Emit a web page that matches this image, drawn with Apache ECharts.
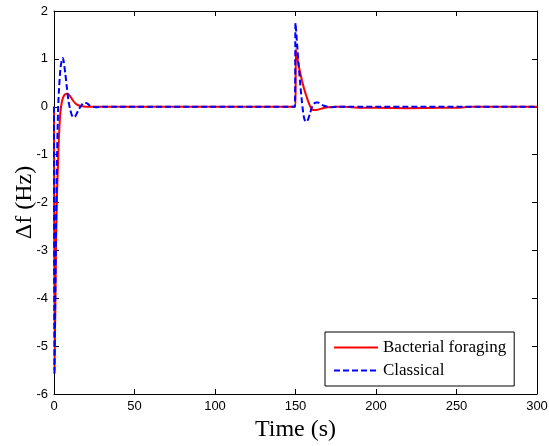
<!DOCTYPE html>
<html><head><meta charset="utf-8">
<script src="https://cdn.jsdelivr.net/npm/echarts@6/dist/echarts.min.js"></script>
<style>html,body{margin:0;padding:0;background:#fff}#c{width:549px;height:446px}</style>
</head><body><div id="c"></div>
<script>
const tBF = [0,0.3,0.8,1.2,1.6,2,2.5,3,3.5,4,5,6,7,8,9,10,11,12,13,14,16,18,20,150,150.2,151,152,153,154,155,156,157,158,159,160,161,162,164,166,168,170,175,180,190,200,220,240,250,260,300];
const yBF = [0,-5.5,-4.2,-3,-2.2,-1.7,-1.2,-0.7,-0.35,-0.1,0.12,0.22,0.26,0.27,0.26,0.22,0.17,0.12,0.08,0.05,0.02,0.01,0,0,1.2,1.05,0.85,0.7,0.55,0.42,0.3,0.2,0.1,0.02,-0.05,-0.07,-0.07,-0.06,-0.04,-0.02,-0.01,0,0,-0.02,-0.02,-0.03,-0.02,-0.02,0,0];
const tCL = [0,0.3,0.8,1.3,1.8,2.5,3,4,5,5.5,6,7,8,9,10,11,12,13,14,15,16,17,18,19,20,21,22,24,26,30,149.5,150,151,152,153,154,155,156,157,158,159,160,161,162,163,164,165,167,170,172,176,300];
const yCL = [0,-5.6,-4,-2.5,-1.2,-0.1,0.3,0.8,1.0,1.02,0.95,0.7,0.4,0.12,-0.05,-0.17,-0.22,-0.21,-0.15,-0.08,-0.02,0.03,0.07,0.08,0.08,0.06,0.03,0,-0.01,0,0,1.75,1.3,0.85,0.45,0.1,-0.18,-0.3,-0.31,-0.25,-0.14,-0.03,0.04,0.08,0.09,0.09,0.07,0.03,0,-0.01,0,0];
const xTicks = [0,50,100,150,200,250,300];
const yTicks = [-6,-5,-4,-3,-2,-1,0,1,2];
const seriesNames = ['Bacterial foraging','Classical'];

const pairs = (t, y) => t.map((v, i) => [v, y[i]]);
const chart = echarts.init(document.getElementById('c'));
const tickLbl = {color:'#000', fontFamily:'Liberation Sans, Arial', fontSize:13};
const line = {onZero:false, lineStyle:{color:'#000', width:1}};
const tick = {inside:true, length:5, lineStyle:{color:'#000'}};
chart.setOption({
  animation:false,
  backgroundColor:'#fff',
  grid:{left:54, right:12, top:11, bottom:52, outerBoundsMode:'none', containLabel:false},
  legend:{
    orient:'vertical', left:325, top:332, width:203,
    backgroundColor:'#fff', borderColor:'#000', borderWidth:1,
    padding:[7,8,7,8], itemGap:6, itemWidth:44, itemHeight:14,
    itemStyle:{opacity:0},
    textStyle:{fontFamily:'Liberation Serif, Times New Roman', fontSize:17, color:'#000'},
    data:seriesNames
  },
  xAxis:[{
    type:'value', min:xTicks[0], max:xTicks[xTicks.length-1], interval:50,
    name:'Time (s)', nameLocation:'middle', nameGap:24, nameMoveOverlap:false,
    nameTextStyle:{fontFamily:'Liberation Serif, Times New Roman', fontSize:24, color:'#000'},
    axisLine:line, axisTick:tick,
    axisLabel:Object.assign({margin:6}, tickLbl),
    splitLine:{show:false}
  },{
    type:'value', min:0, max:300, interval:50, position:'top',
    axisLine:line, axisTick:tick,
    axisLabel:{show:false}, splitLine:{show:false}
  }],
  yAxis:[{
    type:'value', min:yTicks[0], max:yTicks[yTicks.length-1], interval:1,
    name:'\u0394f (Hz)', nameLocation:'middle', nameGap:17, nameMoveOverlap:false,
    nameTextStyle:{fontFamily:'Liberation Serif, Times New Roman', fontSize:24, color:'#000'},
    axisLine:line, axisTick:tick,
    axisLabel:Object.assign({margin:6}, tickLbl),
    splitLine:{show:false}
  },{
    type:'value', min:-6, max:2, interval:1, position:'right',
    axisLine:line, axisTick:tick,
    axisLabel:{show:false}, splitLine:{show:false}
  }],
  series:[
    {name:seriesNames[0], type:'line', symbol:'none', smooth:0.2, data:pairs(tBF,yBF),
     color:'#ff0000', lineStyle:{color:'#ff0000', width:2}},
    {name:seriesNames[1], type:'line', symbol:'none', smooth:0.2, data:pairs(tCL,yCL),
     color:'#0000ff', lineStyle:{color:'#0000ff', width:2, type:[6,3]}}
  ]
});
</script></body></html>
